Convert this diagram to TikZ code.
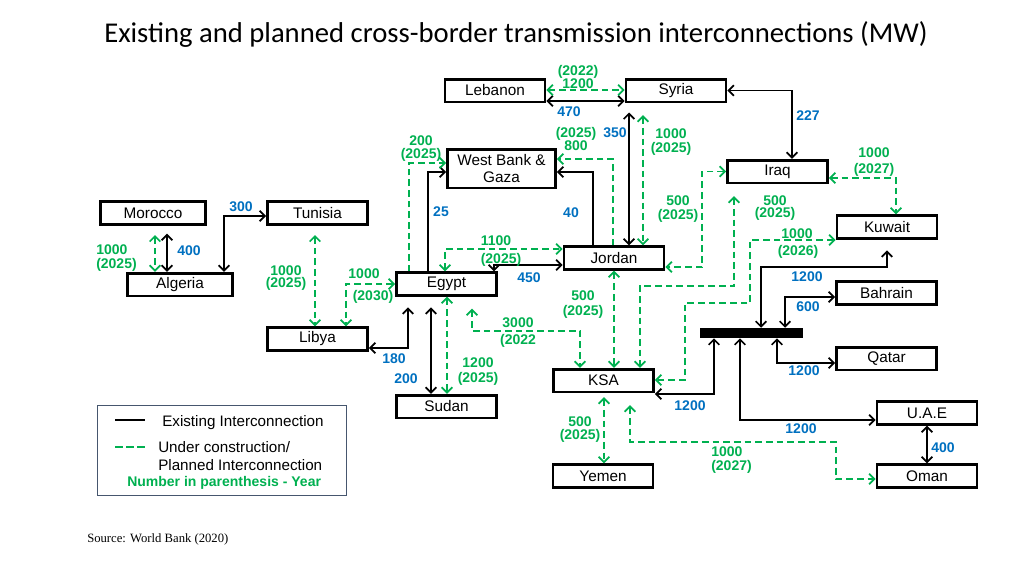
\documentclass[tikz,border=0pt]{standalone}
\usepackage{fontspec}
\setmainfont{Liberation Sans}
\newfontfamily\titlefont{Carlito}
\newfontfamily\sourcefont{Liberation Serif}
\usetikzlibrary{arrows.meta, positioning, calc}

\definecolor{plangreen}{RGB}{0,176,80}
\definecolor{mwblue}{RGB}{0,112,192}
\definecolor{legframe}{RGB}{70,86,110}

\begin{document}
\begin{tikzpicture}[
  x=0.75pt, y=-0.75pt,
  >={Straight Barb[length=4pt, width=8pt]},
  country/.style={draw, line width=2pt, align=center, minimum width=75pt, minimum height=17pt, inner sep=1pt, font=\fontsize{11.5}{13}\selectfont},
  exist/.style={line width=1.3pt},
  plan/.style={plangreen, line width=1.3pt, dash pattern=on 5pt off 3pt},
  mw/.style={text=mwblue, inner sep=0pt, font=\bfseries\fontsize{10.5}{11}\selectfont},
  yr/.style={text=plangreen, inner sep=0pt, align=center, font=\bfseries\fontsize{10.5}{11}\selectfont},
  legtext/.style={anchor=west, inner sep=0pt, align=left, font=\fontsize{11.4}{13.5}\selectfont}
]
\useasboundingbox (0,0) rectangle (1024,576);

% Title and source
\node[font=\titlefont\fontsize{21.5}{26}\selectfont, anchor=base] (title) at (516,42) {Existing and planned cross-border transmission interconnections (MW)};
\node[font=\sourcefont\fontsize{9.5}{11}\selectfont, anchor=west, inner sep=0pt] (source) at (87,539) {Source: World Bank (2020)};

% Countries
\node[country] (leb) at (495,90.5) {Lebanon};
\node[country] (syr) at (676,90.5) {Syria};
\node[country, minimum width=81pt, minimum height=29pt] (wbg) at (501.5,168.5) {West Bank \&\\Gaza};
\node[country] (irq) at (777.5,171.5) {Iraq};
\node[country, minimum width=79pt] (mor) at (153,213) {Morocco};
\node[country] (tun) at (317.5,213) {Tunisia};
\node[country] (kuw) at (887,227) {Kuwait};
\node[country] (jor) at (614,258) {Jordan};
\node[country, minimum width=79pt] (alg) at (180,284.5) {Algeria};
\node[country] (egy) at (446.5,284) {Egypt};
\node[country] (bah) at (886.5,293) {Bahrain};
\node[country] (lib) at (317.5,339) {Libya};
\node[country] (qat) at (886.5,358.5) {Qatar};
\node[country] (ksa) at (603.5,380.5) {KSA};
\node[country] (sud) at (446.5,406.5) {Sudan};
\node[country] (uae) at (927,413) {U.A.E};
\node[country] (yem) at (603,476) {Yemen};
\node[country] (omn) at (927,476) {Oman};

% GCC bus bar
\node[fill=black, minimum width=77pt, minimum height=7.5pt, inner sep=0pt] (bus) at (751.5,333) {};

% Existing interconnections
\draw[exist,<->] (leb.east |- 0,101) -- (syr.west |- 0,101);
\draw[exist,<->] (syr.east) -| (792,0 |- irq.north);
\draw[exist,<->,shorten <=7pt] (629,0 |- syr.south) -- (629,0 |- jor.north);
\draw[exist,->] (593,0 |- jor.north) |- (wbg.east |- 0,172);
\draw[exist,->] (428,0 |- egy.north) |- (wbg.west |- 0,172);
\draw[exist,<->] (494,0 |- egy.north) |- (jor.west |- 0,265);
\draw[exist,<->,shorten >=8pt] (lib.east |- 0,348) -| (408,0 |- egy.south);
\draw[exist,<->,shorten <=8pt] (431,0 |- egy.south) -- (431,0 |- sud.north);
\draw[exist,<->,shorten <=6pt] (167,0 |- mor.south) -- (167,0 |- alg.north);
\draw[exist,<->] (224,0 |- alg.north) |- (tun.west |- 0,216);
\draw[exist,<->] (ksa.east |- 0,394) -| (714,0 |- bus.south);
\draw[exist,<->] (740,0 |- bus.south) |- (uae.west |- 0,420);
\draw[exist,<->] (777,0 |- bus.south) |- (qat.west |- 0,363);
\draw[exist,<->] (785,0 |- bus.north) |- (bah.west |- 0,297);
\draw[exist,<->,shorten >=8pt] (761,0 |- bus.north) |- (887,267) -- (887,0 |- kuw.south);
\draw[exist,<->] (927,0 |- uae.south) -- (927,0 |- omn.north);

% Planned interconnections
\draw[plan,<->] (leb.east |- 0,90) -- (syr.west |- 0,90);
\draw[plan,<->,shorten <=9pt] (643,0 |- syr.south) -- (643,0 |- jor.north);
\draw[plan,->] (613,0 |- jor.north) |- (wbg.east |- 0,159);
\draw[plan,->] (409,0 |- egy.north) |- (wbg.west |- 0,163);
\draw[plan,<->] (445,0 |- egy.north) |- (jor.west |- 0,249);
\draw[plan,<->] (egy.west) -| (346,0 |- lib.north);
\draw[plan,<->,shorten <=7pt] (315,0 |- tun.south) -- (315,0 |- lib.north);
\draw[plan,<->,shorten <=7pt] (155,0 |- mor.south) -- (155,0 |- alg.north);
\draw[plan,<->] (447,0 |- egy.south) -- (447,0 |- sud.north);
\draw[plan,<->,shorten <=9pt] (472,0 |- egy.south) |- (580,331) -- (580,0 |- ksa.north);
\draw[plan,<->] (614,0 |- jor.south) -- (614,0 |- ksa.north);
\draw[plan,<->] (irq.west) -| (702,267) -- (jor.east |- 0,267);
\draw[plan,<->,shorten <=9pt] (734,0 |- irq.south) |- (640,286) -- (640,0 |- ksa.north);
\draw[plan,<->] (irq.east |- 0,178) -| (896,0 |- kuw.north);
\draw[plan,<->] (kuw.west |- 0,240) -| (750,303) -| (685,380) -- (ksa.east |- 0,380);
\draw[plan,<->,shorten <=9pt] (630,0 |- ksa.south) |- (836,442) |- (omn.west |- 0,479);
\draw[plan,<->,shorten <=3pt] (604,0 |- ksa.south) -- (604,0 |- yem.north);

% Capacities of existing lines
\node[mw] (m470) at (569,112) {470};
\node[mw] (m227) at (808,116) {227};
\node[mw] (m350) at (615,133) {350};
\node[mw] (m25) at (441,212) {25};
\node[mw] (m40) at (571,213) {40};
\node[mw] (m300) at (241,207) {300};
\node[mw] (m400a) at (189,251) {400};
\node[mw] (m450) at (529,278) {450};
\node[mw] (m180) at (394,359) {180};
\node[mw] (m200) at (406,379) {200};
\node[mw] (m1200a) at (807,277) {1200};
\node[mw] (m600) at (808,307) {600};
\node[mw] (m1200b) at (804,371) {1200};
\node[mw] (m1200c) at (690,406) {1200};
\node[mw] (m1200d) at (801,429) {1200};
\node[mw] (m400b) at (943,448) {400};

% Capacities and years of planned lines
\node[yr] (ylebsyr) at (578,77) {(2022)\\[-1pt]1200};
\node[yr] (yjorwbg) at (576,139) {(2025)\\[-1.8pt]800};
\node[yr] (ysyrjor) at (671,142) {1000\\[-0.5pt](2025)};
\node[yr] (yegywbg) at (421,148.5) {200\\[-1pt](2025)};
\node[yr, align=left, anchor=west] (ymoralg) at (96,258) {1000\\[-0.5pt](2025)};
\node[yr] (ytunlib) at (286,278) {1000\\[-1.5pt](2025)};
\node[yr] (yegyliba) at (364,274) {1000};
\node[yr] (yegylibb) at (373,297) {(2030)};
\node[yr] (yegyjora) at (496,241) {1100};
\node[yr] (yegyjorb) at (501,260) {(2025)};
\node[yr] (yjorksa) at (583,304.5) {500\\[0.3pt](2025)};
\node[yr] (yegyksaa) at (518,323) {3000};
\node[yr] (yegyksab) at (518,341) {(2022};
\node[yr] (yegysud) at (478,371.5) {1200\\[0.3pt](2025)};
\node[yr] (yirqjor) at (678,209) {500\\[-0.5pt](2025)};
\node[yr] (yirqksa) at (775,208) {500\\[-2pt](2025)};
\node[yr] (yirqkuw) at (874,162) {1000\\[1pt](2027)};
\node[yr] (ykuwksaa) at (797,234) {1000};
\node[yr] (ykuwksab) at (798,252) {(2026)};
\node[yr, align=left, anchor=west] (yksaomn) at (711,460) {1000\\[-1pt](2027)};
\node[yr] (yksayem) at (580,429.5) {500\\[-1pt](2025)};

% Legend
\node[draw=legframe, line width=0.8pt, minimum width=187pt, minimum height=67.5pt, inner sep=0pt] (legend) at (222,450.5) {};
\draw[exist, line width=1.6pt] (115,420) -- (145,420);
\draw[plan, line width=1.6pt, dash pattern=on 6pt off 2.25pt] (115,447) -- (145,447);
\node[legtext] (legexist) at (162,423) {Existing Interconnection};
\node[legtext] (legplan) at (158,456.5) {Under construction/\\Planned Interconnection};
\node[yr, anchor=west] (legyear) at (127,483) {Number in parenthesis - Year};

\end{tikzpicture}
\end{document}
